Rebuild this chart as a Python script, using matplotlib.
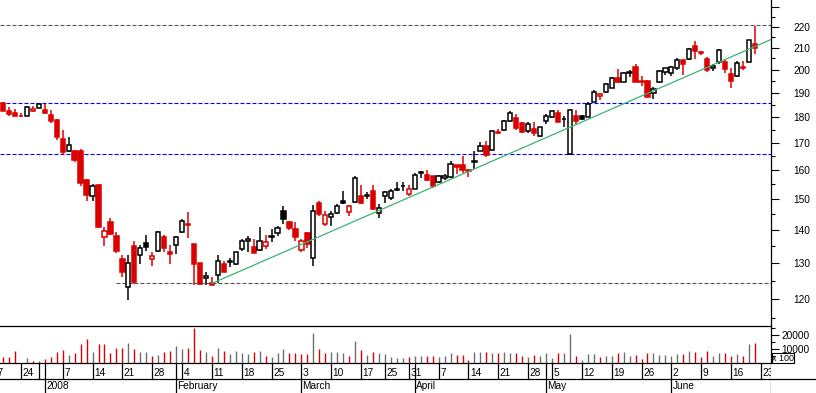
import numpy as np
import pandas as pd
import matplotlib
matplotlib.use("Agg")
import matplotlib.pyplot as plt
from matplotlib.lines import Line2D
from matplotlib.patches import Rectangle
from matplotlib.ticker import FixedLocator, FixedFormatter, NullFormatter

plt.rcParams['font.family'] = ['Liberation Sans', 'DejaVu Sans']

# calendrier de bourse (Euronext), jours feries exclus
holidays = ["2007-12-25", "2007-12-26", "2008-01-01", "2008-03-21", "2008-03-24", "2008-05-01"]
days = pd.bdate_range("2007-12-17", "2008-06-27")
days = days[~days.isin(pd.to_datetime(holidays))]

first_bar = "2007-12-19"

opens = [185.5, 182.2, 181.5, 180.5, 180.4, 182.5, 183.7, 182.8, 180.9, 178.9,
         171.4, 166.8, 167.0, 166.9, 156.4, 151.0, 154.8, 137.7, 142.4, 138.0,
         131.2, 123.2, 135.2, 132.3, 136.0, 131.3, 133.7, 137.7, 133.3, 135.4,
         139.3, 141.9, 135.7, 130.0, 125.9, 124.5, 126.6, 129.8, 130.4, 129.9,
         134.2, 136.5, 134.9, 133.9, 135.2, 137.9, 139.2, 145.9, 142.4, 140.4,
         133.9, 139.2, 131.5, 148.6, 142.0, 144.1, 145.3, 149.4, 145.7, 148.9,
         150.9, 151.1, 152.6, 145.4, 150.9, 150.2, 153.0, 154.2, 151.7, 153.3,
         158.9, 158.3, 157.8, 155.8, 157.0, 157.6, 161.8, 161.8, 160.0, 162.9,
         166.9, 168.8, 167.3, 174.2, 175.0, 178.2, 179.7, 177.6, 174.6, 175.2,
         172.4, 178.2, 179.9, 181.7, 179.0, 165.6, 180.5, 180.2, 180.1, 186.2,
         188.5, 190.2, 192.1, 196.2, 194.4, 198.6, 201.3, 195.0, 195.1, 189.8,
         194.6, 198.7, 198.4, 200.6, 204.2, 204.8, 210.6, 208.0, 204.8, 200.6,
         203.4, 203.4, 197.9, 197.3, 201.2, 203.6, 211.9]
highs = [186.0, 184.2, 183.0, 181.6, 184.5, 184.5, 185.6, 185.4, 182.6, 179.3,
         175.0, 172.0, 167.4, 167.5, 156.8, 155.0, 155.0, 140.8, 143.7, 139.5,
         132.5, 132.5, 136.5, 135.3, 138.4, 133.3, 139.7, 138.5, 135.4, 138.0,
         143.4, 145.6, 135.8, 130.0, 127.5, 126.2, 132.5, 130.6, 131.6, 133.4,
         137.3, 138.1, 137.3, 140.8, 138.5, 140.3, 141.1, 147.6, 142.7, 142.4,
         137.3, 139.5, 148.1, 149.2, 146.0, 145.9, 148.3, 152.6, 148.1, 157.8,
         154.6, 152.4, 154.6, 148.3, 152.6, 153.2, 155.6, 155.6, 154.6, 158.8,
         159.6, 159.8, 157.8, 158.2, 158.5, 163.1, 161.8, 165.2, 160.2, 166.7,
         170.3, 170.7, 174.9, 175.4, 178.7, 182.4, 181.3, 178.0, 177.8, 178.1,
         176.1, 181.2, 182.6, 182.9, 180.5, 183.1, 182.6, 180.8, 186.1, 191.0,
         190.0, 194.2, 196.6, 200.1, 198.9, 199.7, 202.3, 197.0, 195.4, 192.4,
         199.9, 200.9, 201.5, 205.3, 204.4, 209.8, 213.2, 208.5, 205.8, 202.5,
         209.2, 204.1, 200.6, 203.9, 203.7, 213.8, 220.5]
lows = [182.3, 180.2, 180.4, 179.8, 180.2, 182.1, 183.5, 181.0, 177.7, 171.0,
        165.3, 166.6, 163.0, 154.4, 149.3, 149.2, 140.7, 135.2, 138.3, 133.1,
        126.2, 119.7, 124.2, 129.9, 133.7, 129.1, 133.4, 133.4, 129.9, 132.6,
        139.0, 137.6, 124.0, 123.9, 124.0, 123.9, 124.3, 127.5, 128.9, 129.6,
        133.6, 133.2, 132.9, 133.6, 134.2, 136.3, 138.0, 141.9, 139.9, 136.5,
        133.2, 134.6, 129.3, 144.3, 141.1, 141.1, 145.0, 148.4, 144.3, 148.6,
        148.4, 150.0, 146.4, 143.8, 148.6, 149.6, 152.6, 152.6, 151.0, 153.3,
        157.0, 156.1, 153.7, 155.4, 156.5, 157.2, 158.6, 159.0, 157.5, 160.2,
        166.9, 164.5, 167.3, 173.2, 174.6, 177.8, 175.0, 173.6, 173.7, 172.4,
        172.0, 177.3, 179.5, 177.8, 176.2, 165.3, 177.3, 178.6, 179.9, 186.2,
        186.7, 189.9, 191.8, 194.1, 194.4, 196.9, 194.5, 192.8, 188.0, 187.5,
        193.9, 197.6, 197.0, 199.8, 197.5, 204.2, 204.8, 206.7, 198.9, 199.5,
        202.6, 198.4, 191.8, 196.9, 199.7, 203.4, 206.9]
closes = [182.5, 181.1, 180.4, 180.2, 184.0, 183.3, 185.4, 181.4, 178.5, 172.0,
          166.6, 169.2, 163.6, 155.5, 151.2, 154.2, 140.9, 139.7, 138.8, 133.6,
          127.6, 130.2, 124.8, 134.6, 134.9, 132.2, 139.4, 134.4, 132.8, 137.8,
          142.7, 141.5, 129.9, 124.2, 126.5, 124.0, 130.7, 127.6, 130.6, 133.2,
          136.5, 137.3, 133.0, 136.7, 136.3, 138.1, 140.6, 143.6, 140.6, 137.7,
          136.5, 135.6, 146.1, 145.2, 144.6, 144.9, 147.6, 148.6, 147.6, 157.0,
          148.6, 151.3, 146.6, 147.1, 152.4, 152.6, 153.2, 154.3, 153.3, 158.3,
          159.0, 156.3, 154.3, 157.8, 158.0, 162.2, 161.1, 159.9, 159.5, 163.2,
          168.8, 165.4, 174.6, 173.8, 178.5, 181.5, 175.6, 174.0, 177.2, 173.7,
          175.9, 180.5, 182.2, 178.1, 179.2, 182.9, 178.5, 179.3, 185.4, 190.4,
          189.4, 193.8, 196.4, 194.4, 198.4, 198.9, 194.7, 194.4, 188.1, 191.7,
          199.4, 200.6, 201.0, 204.5, 202.3, 209.3, 208.5, 207.4, 199.7, 201.7,
          209.0, 200.1, 194.8, 202.9, 200.8, 213.6, 210.0]
# volume en centaines de titres
volumes = [4500, 4500, 8800, 500, 3800, 1700, 1700, 3100, 4500, 8100,
           9800, 6200, 7600, 13800, 17400, 8100, 13800, 13800, 7600, 11000,
           11000, 14500, 10200, 8100, 8100, 5500, 6200, 8100, 8800, 12400,
           10200, 11000, 25500, 9500, 8100, 5500, 11000, 8800, 6900, 8800,
           7400, 6900, 8100, 8800, 5500, 4500, 7400, 10200, 7600, 7600,
           6900, 6900, 21700, 10200, 7400, 8100, 8300, 7400, 5200, 16000,
           9500, 6000, 8100, 7400, 6700, 4500, 3800, 3800, 4300, 5200,
           5200, 5200, 5200, 4300, 5200, 7600, 6200, 6200, 2400, 8100,
           8100, 8100, 7100, 7100, 8100, 7600, 7600, 5200, 4800, 6200,
           5200, 7400, 3800, 7100, 7600, 21000, 5200, 2400, 6700, 6700,
           4800, 5200, 5200, 7600, 8100, 5200, 6200, 3300, 7600, 7100,
           6200, 6200, 5200, 6700, 6700, 8800, 8100, 4800, 8800, 5200,
           7100, 7400, 5200, 6700, 5200, 13800, 14500]

# niveaux horizontaux et ligne de tendance
resistance_levels = [185.5, 165.7]
top_level = 221.0
support_level = 124.4
support_from = "2008-01-18"
trend_dates = ["2008-02-11", "2008-06-20"]
trend_prices = [124.3, 210.5]

RED = "#dd0000"
GREY = "#6e6e6e"

x0 = days.get_loc(pd.Timestamp(first_bar))
xs = np.arange(x0, x0 + len(closes))
xmin, xmax = 1.49, 130.7

W, H = 816, 393
fig = plt.figure(figsize=(W / 100, H / 100), dpi=100)
ax = fig.add_axes([0, (H - 325.5) / H, 771 / W, 325.5 / H])
vax = fig.add_axes([0, (H - 363.3) / H, 771 / W, 37.8 / H])
dax = fig.add_axes([0, 0, 771 / W, (H - 363.3) / H])

# chandeliers
prev = [opens[0]] + closes[:-1]
for x, o, h, l, c, p in zip(xs, opens, highs, lows, closes, prev):
    up = c >= p
    col = "black" if up else RED
    face = "white" if c >= o else col
    ax.vlines(x, l, h, color=col, lw=1.1, zorder=2)
    lo, hi = min(o, c), max(o, c)
    if hi - lo < 0.3:
        hi = lo + 0.3
    ax.bar(x, hi - lo, bottom=lo, width=0.72, color=face, edgecolor=col,
           linewidth=1.1, zorder=3)

dash = (0, (3.6, 1.8))
ax.axhline(top_level, color="#555555", lw=0.8, ls=dash, zorder=1)
for lvl in resistance_levels:
    ax.axhline(lvl, color="#0000ff", lw=0.8, ls=dash, zorder=1)
ax.hlines(support_level, days.get_loc(pd.Timestamp(support_from)), xmax + 1,
          color="#555555", lw=0.8, ls=dash, zorder=1)

t0 = days.get_loc(pd.Timestamp(trend_dates[0]))
t1 = days.get_loc(pd.Timestamp(trend_dates[1]))
slope = (np.log(trend_prices[1]) - np.log(trend_prices[0])) / (t1 - t0)
tx = np.array([t0, xmax + 1])
ax.plot(tx, np.exp(np.log(trend_prices[0]) + slope * (tx - t0)),
        color="#3cb371", lw=0.9, zorder=4)

ax.set_yscale("log")
ax.set_xlim(xmin, xmax)
ax.set_ylim(113.2, 233.45)
ax.yaxis.tick_right()
major = list(range(120, 231, 10))
ax.yaxis.set_major_locator(FixedLocator(major))
ax.yaxis.set_major_formatter(FixedFormatter([str(v) if v <= 220 else "" for v in major]))
ax.yaxis.set_minor_locator(FixedLocator(list(range(115, 230, 10))))
ax.yaxis.set_minor_formatter(NullFormatter())
ax.tick_params(axis="y", which="major", direction="out", length=5.8, width=0.8,
               labelsize=7.3, pad=10)
ax.tick_params(axis="y", which="minor", direction="out", length=2.9, width=0.8)
ax.set_xticks([])
for s in ["top", "left", "bottom"]:
    ax.spines[s].set_visible(False)
ax.spines["right"].set_linewidth(0.9)

# volume
vcols = [GREY if c >= p else RED for c, p in zip(closes, prev)]
vax.vlines(xs, 0, volumes, colors=vcols, lw=1.0)
vax.set_xlim(xmin, xmax)
vax.set_ylim(0, 27000)
vax.yaxis.tick_right()
vax.yaxis.set_major_locator(FixedLocator([10000, 20000]))
vax.yaxis.set_minor_locator(FixedLocator([5000, 15000, 25000]))
vax.yaxis.set_minor_formatter(NullFormatter())
vax.tick_params(axis="y", which="major", direction="out", length=5.8, width=0.8,
                labelsize=7.3, pad=1.5)
vax.tick_params(axis="y", which="minor", direction="out", length=2.9, width=0.8)
vax.set_xticks([])
vax.spines["left"].set_visible(False)
for s in ["top", "bottom", "right"]:
    vax.spines[s].set_linewidth(0.9)

fig.add_artist(Rectangle((771.7 / W, (H - 363.3) / H), 22.6 / W, 10.3 / H,
                         transform=fig.transFigure, fill=False, lw=0.8, ec="black"))
fig.text(783 / W, (H - 358.2) / H, "x 100", ha="center", va="center", fontsize=6.5)

# axe des dates
dax.set_xlim(xmin, xmax)
dax.set_ylim(0, 1)
dax.axis("off")
split = 14 / 29.7
fig.add_artist(Line2D([0, 1], [14 / H, 14 / H], transform=fig.transFigure,
                      color="black", lw=0.9))
dax.add_artist(Line2D([1, 1], [0, 1], transform=dax.transAxes, color="black", lw=0.9))
hidden_labels = ["2007-12-31"]
month_names = {1: "2008", 2: "February", 3: "March", 4: "April", 5: "May", 6: "June"}
for i, d in enumerate(days):
    week_start = i == 0 or d.weekday() < days[i - 1].weekday()
    month_start = i > 0 and d.month != days[i - 1].month
    if week_start or month_start:
        dax.vlines(i, split, 1, color="black", lw=0.9)
    if week_start and d.strftime("%Y-%m-%d") not in hidden_labels:
        dax.text(i + 0.25, 0.68, str(d.day), ha="left", va="center",
                 fontsize=7.3, clip_on=True)
    if month_start:
        dax.vlines(i, 0, split, color="black", lw=0.9)
        dax.text(i + 0.2, 0.22, month_names[d.month], ha="left", va="center",
                 fontsize=7.3, clip_on=True)

fig.savefig("out.png", dpi=100)
